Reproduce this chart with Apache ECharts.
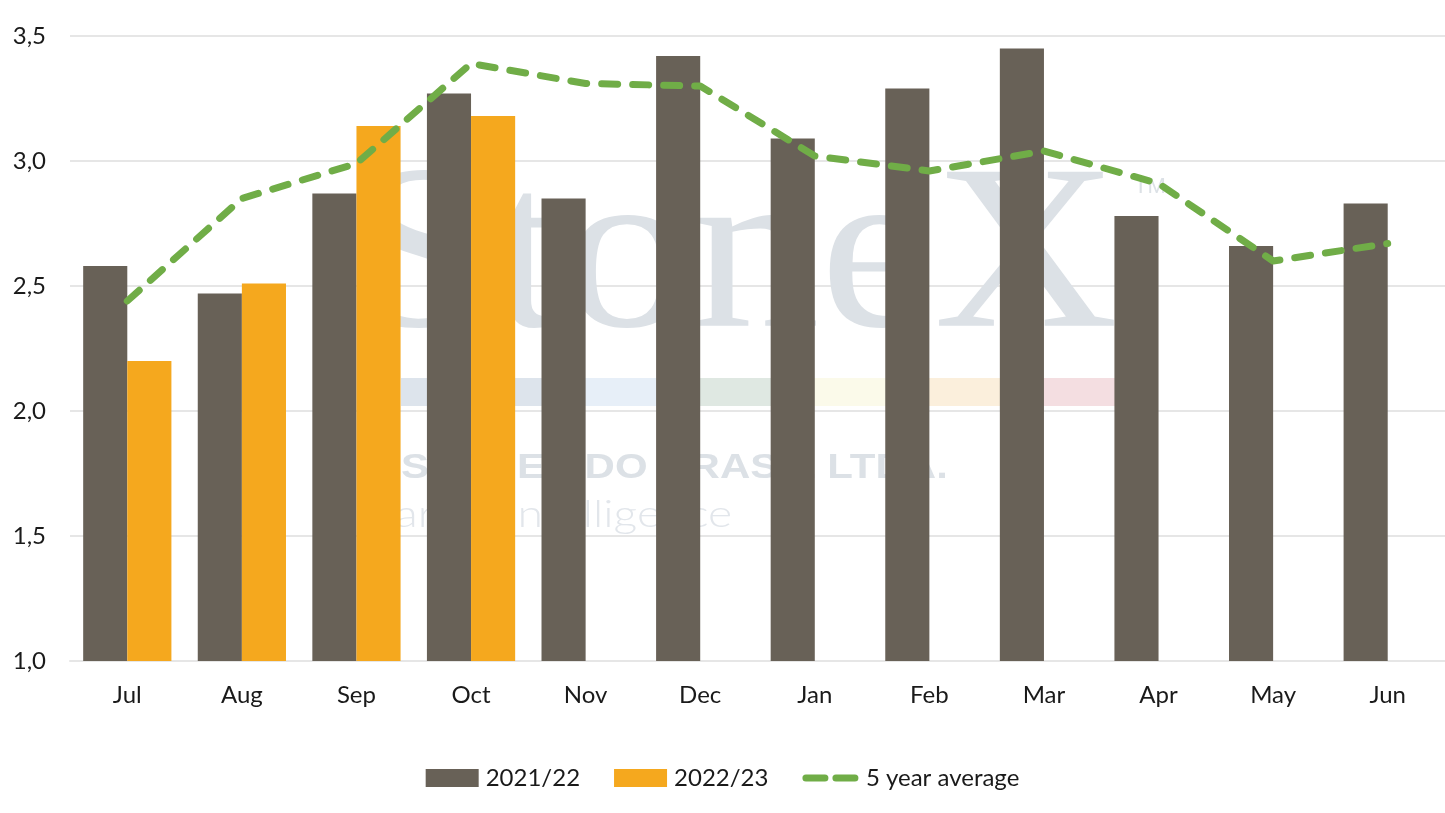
<!DOCTYPE html>
<html>
<head>
<meta charset="utf-8">
<script src="https://cdn.jsdelivr.net/npm/echarts@6/dist/echarts.min.js"></script>
<style>
html,body{margin:0;padding:0;background:#fff;}
#chart{width:1445px;height:813px;}
</style>
</head>
<body>
<div id="chart"></div>
<script>
var months = ['Jul','Aug','Sep','Oct','Nov','Dec','Jan','Feb','Mar','Apr','May','Jun'];
var season2122 = [2.58, 2.47, 2.87, 3.27, 2.85, 3.42, 3.09, 3.29, 3.45, 2.78, 2.66, 2.83];
var season2223 = [2.20, 2.51, 3.14, 3.18, null, null, null, null, null, null, null, null];
var fiveYearAvg = [2.44, 2.85, 2.99, 3.39, 3.31, 3.30, 3.02, 2.96, 3.04, 2.91, 2.60, 2.67];
var seriesNames = ['2021/22', '2022/23', '5 year average'];

var FONT = 'Lato, "Open Sans", sans-serif';
var chart = echarts.init(document.getElementById('chart'));

var wm = '#DCE1E6';
var stripe = [
  {x: 401, w: 163, c: '#DDE4EC'},
  {x: 564, w: 114, c: '#E7EFF8'},
  {x: 678, w: 115, c: '#DFE8E2'},
  {x: 793, w: 114, c: '#FBFAEA'},
  {x: 907, w: 115, c: '#FBEFDC'},
  {x: 1022, w: 93, c: '#F4DEE1'}
];
var graphics = [
  {type: 'text', z: 1, silent: true, x: 350, y: 264, scaleX: 1.09,
   style: {text: 'StoneX', fill: wm, font: '235px "Liberation Serif", serif', textVerticalAlign: 'middle'}},
  {type: 'text', z: 1, silent: true, x: 1134, y: 187,
   style: {text: 'TM', fill: wm, font: '22px "Liberation Sans", sans-serif', textVerticalAlign: 'middle'}},
  {type: 'text', z: 1, silent: true, x: 401, y: 468, scaleX: 1.2,
   style: {text: 'STONEX DO BRASIL LTDA.', fill: wm, font: 'bold 35px "Liberation Sans", sans-serif', textVerticalAlign: 'middle'}},
  {type: 'text', z: 1, silent: true, x: 358, y: 515, scaleX: 1.22,
   style: {text: 'market intelligence', fill: '#E2E6EB', font: '300 38px Lato, sans-serif', textVerticalAlign: 'middle'}}
];
stripe.forEach(function (s) {
  graphics.push({type: 'rect', z: 1, silent: true, shape: {x: s.x, y: 378, width: s.w, height: 28}, style: {fill: s.c}});
});

chart.setOption({
  animation: false,
  backgroundColor: '#ffffff',
  textStyle: {fontFamily: FONT},
  graphic: graphics,
  grid: {left: 70, right: 0, top: 36, bottom: 152, containLabel: false},
  legend: {
    data: [
      {name: seriesNames[0], icon: 'rect'},
      {name: seriesNames[1], icon: 'rect'},
      {name: seriesNames[2], itemStyle: {opacity: 0, color: 'rgba(0,0,0,0)', borderWidth: 0}}
    ],
    bottom: 18,
    left: 'center',
    itemWidth: 53,
    itemHeight: 18,
    itemGap: 34,
    lineStyle: {width: 7, type: [19, 11], cap: 'round'},
    textStyle: {fontSize: 24, color: '#1a1a1a', fontFamily: FONT, padding: [0, 0, 0, 2]}
  },
  xAxis: {
    type: 'category',
    data: months,
    axisLine: {show: true, lineStyle: {color: '#E6E6E6', width: 2}},
    axisTick: {show: false},
    axisLabel: {fontSize: 24, color: '#1a1a1a', margin: 22, fontFamily: FONT}
  },
  yAxis: {
    type: 'value',
    min: 1,
    max: 3.5,
    interval: 0.5,
    axisLine: {show: false},
    axisTick: {show: false},
    splitLine: {lineStyle: {color: '#E6E6E6', width: 2}},
    axisLabel: {
      fontSize: 24, color: '#1a1a1a', margin: 24, fontFamily: FONT,
      formatter: function (v) { return v.toFixed(1).replace('.', ','); }
    }
  },
  series: [
    {
      name: seriesNames[0], type: 'bar', data: season2122,
      itemStyle: {color: '#686157'},
      barGap: '0%', barCategoryGap: '23%', z: 2
    },
    {
      name: seriesNames[1], type: 'bar', data: season2223,
      itemStyle: {color: '#F5A81E'},
      barGap: '0%', barCategoryGap: '23%', z: 2
    },
    {
      name: seriesNames[2], type: 'line', data: fiveYearAvg,
      symbol: 'none', showSymbol: false, z: 3,
      itemStyle: {color: '#70AD47'},
      lineStyle: {color: '#70AD47', width: 7, type: [16, 15], cap: 'round', join: 'round'}
    }
  ]
});
</script>
</body>
</html>
